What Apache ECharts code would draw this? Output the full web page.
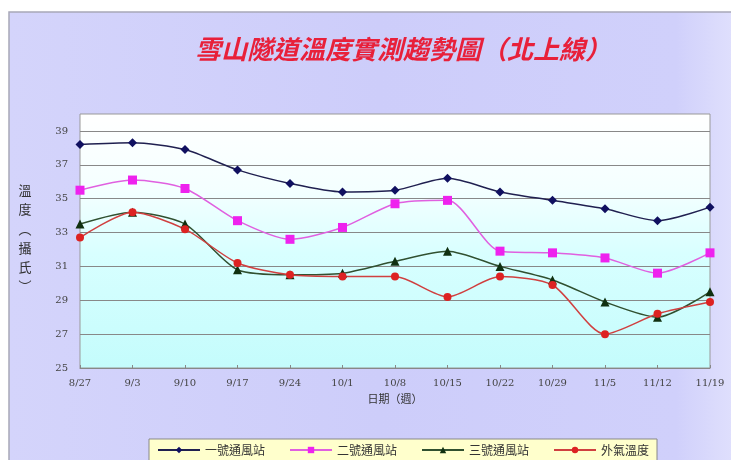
<!DOCTYPE html>
<html>
<head>
<meta charset="utf-8">
<script src="https://cdn.jsdelivr.net/npm/echarts@6/dist/echarts.min.js"></script>
<style>
  html, body { margin: 0; padding: 0; background: #ffffff; }
  #chart { width: 731px; height: 460px; }
</style>
</head>
<body>
<div id="chart"></div>
<script>
// Weekly sample dates
const weeks = ['8/27', '9/3', '9/10', '9/17', '9/24', '10/1', '10/8', '10/15', '10/22', '10/29', '11/5', '11/12', '11/19'];

// Measured temperatures (°C)
const station1 = [38.2, 38.3, 37.9, 36.7, 35.9, 35.4, 35.5, 36.2, 35.4, 34.9, 34.4, 33.7, 34.5];
const station2 = [35.5, 36.1, 35.6, 33.7, 32.6, 33.3, 34.7, 34.9, 31.9, 31.8, 31.5, 30.6, 31.8];
const station3 = [33.5, 34.2, 33.5, 30.8, 30.5, 30.6, 31.3, 31.9, 31.0, 30.2, 28.9, 28.0, 29.5];
const outside  = [32.7, 34.2, 33.2, 31.2, 30.5, 30.4, 30.4, 29.2, 30.4, 29.9, 27.0, 28.2, 28.9];

const seriesNames = ['一號通風站', '二號通風站', '三號通風站', '外氣溫度'];

// Value axis range; labelled grid lines every 2 degrees starting at 25
const yMin = 25;
const yMax = 40;

// Vertical y-axis title, one glyph per row (vertical presentation forms for the brackets)
const yTitleChars = ['溫', '度', '︵', '攝', '氏', '︶'];
const yTitleRows = [190, 209, 229, 248, 267, 286];

const chart = echarts.init(document.getElementById('chart'));

function lineSeries(name, data, color, lineColor, symbol, size) {
  return {
    name: name,
    type: 'line',
    data: data,
    symbol: symbol,
    symbolSize: size,
    smooth: 0.25,
    lineStyle: { color: lineColor, width: 1.5 },
    itemStyle: { color: color, borderWidth: 0 },
    emphasis: { disabled: true },
    z: 3
  };
}

const yTitle = yTitleChars.map(function (ch, i) {
  return {
    type: 'text',
    x: 25,
    y: yTitleRows[i],
    style: {
      text: ch,
      font: '13px "Noto Sans CJK JP"',
      fill: '#333333',
      align: 'center',
      verticalAlign: 'middle'
    }
  };
});

chart.setOption({
  animation: false,
  backgroundColor: '#ffffff',
  graphic: [
    {
      type: 'rect',
      shape: { x: 9, y: 12, width: 740, height: 460 },
      style: {
        fill: new echarts.graphic.LinearGradient(0, 0, 1, 0, [
          { offset: 0, color: '#d4d4fb' },
          { offset: 0.5, color: '#cdcdfa' },
          { offset: 0.9, color: '#d0d0fb' },
          { offset: 1, color: '#e4e4fd' }
        ]),
        stroke: '#a8a8b8',
        lineWidth: 1.5
      },
      z: -10
    }
  ].concat(yTitle),
  title: {
    text: '雪山隧道溫度實測趨勢圖（北上線）',
    left: 398,
    textAlign: 'center',
    top: 31,
    textStyle: {
      fontFamily: '"Noto Sans CJK TC"',
      fontStyle: 'italic',
      fontWeight: 'bold',
      fontSize: 26,
      color: '#e8203a'
    }
  },
  legend: {
    data: seriesNames,
    bottom: -4,
    left: 149,
    itemWidth: 42,
    itemHeight: 8,
    itemGap: 24,
    backgroundColor: '#ffffcc',
    borderColor: '#888888',
    borderWidth: 1,
    padding: [5, 8, 8, 8],
    textStyle: { fontSize: 12, color: '#333333', fontFamily: '"Noto Sans CJK TC"' }
  },
  grid: {
    left: 80,
    right: 21,
    top: 114,
    bottom: 92,
    show: true,
    borderColor: '#999999',
    borderWidth: 1,
    backgroundColor: new echarts.graphic.LinearGradient(0, 0, 0, 1, [
      { offset: 0, color: '#ffffff' },
      { offset: 0.3, color: '#f4ffff' },
      { offset: 0.55, color: '#d8ffff' },
      { offset: 1, color: '#c4fcfc' }
    ])
  },
  xAxis: {
    type: 'category',
    data: weeks,
    boundaryGap: false,
    name: '日期（週）',
    nameLocation: 'middle',
    nameGap: 24,
    nameTextStyle: { fontSize: 11, color: '#333333', fontFamily: '"Noto Sans CJK TC"' },
    axisLine: { lineStyle: { color: '#888888' } },
    axisTick: { show: true, length: 3, inside: true, lineStyle: { color: '#888888' } },
    axisLabel: { fontSize: 10, color: '#444444', margin: 10, fontFamily: 'DejaVu Serif' },
    splitLine: { show: false }
  },
  yAxis: {
    type: 'value',
    min: yMin,
    max: yMax,
    interval: 1,
    axisLine: { show: false },
    axisTick: { show: false },
    axisLabel: {
      fontSize: 10,
      color: '#444444',
      margin: 12,
      fontFamily: 'DejaVu Serif',
      formatter: function (v) { return (v - yMin) % 2 === 0 && v < yMax ? String(v) : ''; }
    },
    splitLine: {
      show: true,
      lineStyle: { color: ['#888888', 'rgba(0,0,0,0)'], width: 1.2 }
    }
  },
  series: [
    lineSeries(seriesNames[0], station1, '#101060', '#202050', 'diamond', 9),
    lineSeries(seriesNames[1], station2, '#ee22ee', '#e060e0', 'rect', 9),
    lineSeries(seriesNames[2], station3, '#103010', '#305030', 'triangle', 9),
    lineSeries(seriesNames[3], outside, '#dd2222', '#d04040', 'circle', 8)
  ]
});
</script>
</body>
</html>
